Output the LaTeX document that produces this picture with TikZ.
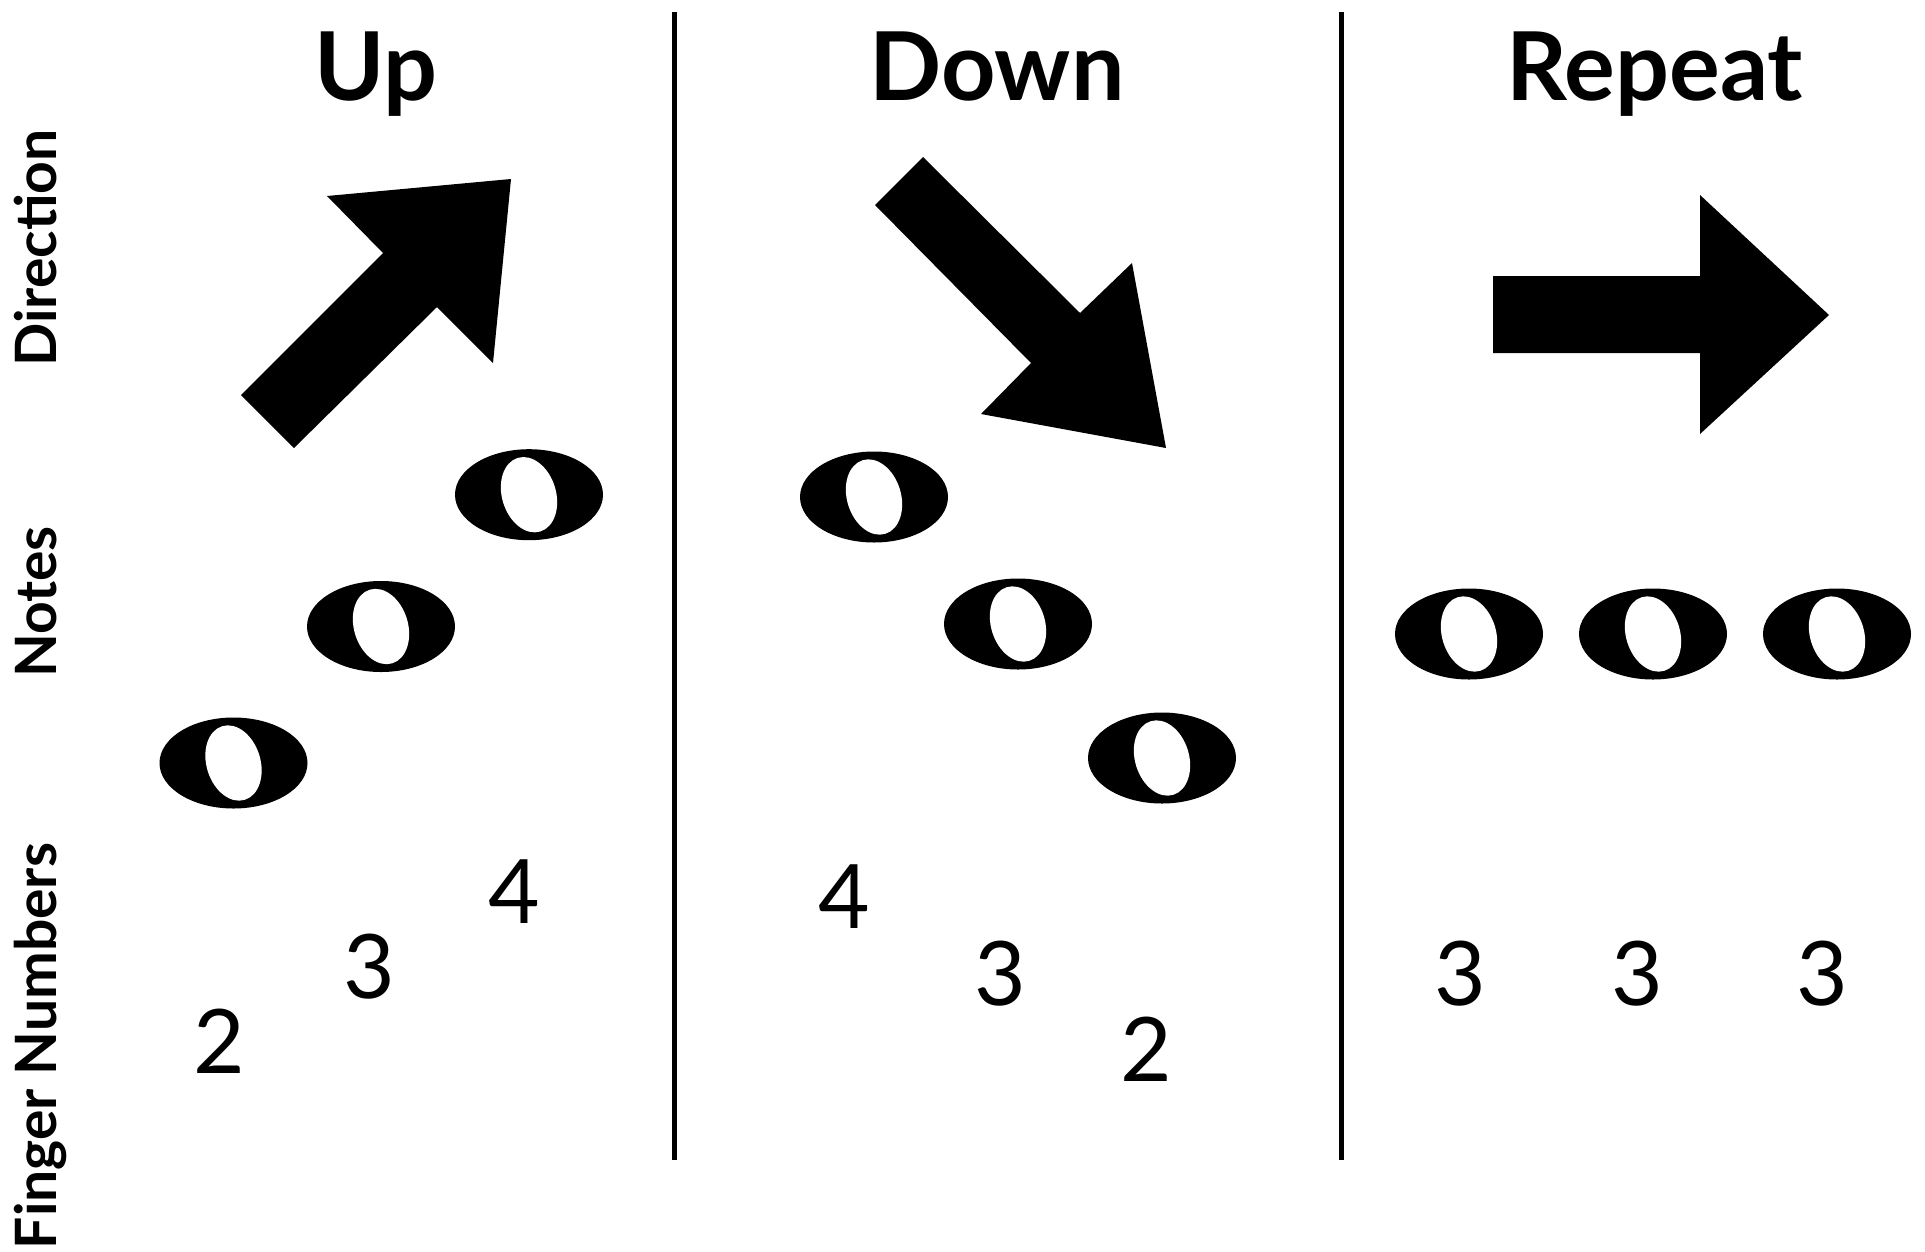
\documentclass[tikz,border=0pt]{standalone}
\usepackage{fontspec}
\setmainfont{Lato}
\begin{document}
\begin{tikzpicture}[x=1pt,y=-1pt,
  title/.style={font=\fontsize{95}{100}\selectfont\bfseries, anchor=base, inner sep=0pt},
  rowlabel/.style={font=\fontsize{57}{60}\selectfont\bfseries, anchor=base, rotate=90, inner sep=0pt},
  finger/.style={font=\fontsize{89}{90}\selectfont, inner sep=0pt, anchor=center},
  divider/.style={line width=5pt},
  bigarrow/.style={fill=black},
  wholenote/.pic={
    \fill[black] (0,0) ellipse [x radius=74, y radius=45.5];
    \fill[white, rotate=17] (0,0) ellipse [x radius=27, y radius=38.5];
  }]
\useasboundingbox (0,0) rectangle (1925,1251);
\fill[white] (0,0) rectangle (1925,1251);

% titles
\node[title] (tup) at (376,100) {Up};
\node[title] (tdown) at (997,100) {Down};
\node[title] (trep) at (1655,100) {Repeat};

% row labels
\node[rowlabel] (ldir) at (56,248) {Direction};
\node[rowlabel] (lnotes) at (56,602) {Notes};
\node[rowlabel] (lfing) at (56,1046) {Finger Numbers};

% dividers
\coordinate (d1t) at (674,12);
\coordinate (d1b) at (674,1160);
\coordinate (d2t) at (1341,12);
\coordinate (d2b) at (1341,1160);
\draw[divider] (d1t) -- (d1b);
\draw[divider] (d2t) -- (d2b);

% arrows
\fill[bigarrow] (241,395) -- (294,448) -- (437,307) -- (493,363) -- (511,179) -- (327,196) -- (383,253) -- cycle;
\fill[bigarrow] (875,205) -- (923,157) -- (1080,313) -- (1132,263) -- (1166,448) -- (981,414) -- (1031,363) -- cycle;
\fill[bigarrow] (1493,276) -- (1700,276) -- (1700,195) -- (1829,315) -- (1700,434) -- (1700,353) -- (1493,353) -- cycle;

% notes
\pic (nu1) at (233.5,763) {wholenote};
\pic (nu2) at (381,626.5) {wholenote};
\pic (nu3) at (529,494.7) {wholenote};
\pic (nd1) at (874,497) {wholenote};
\pic (nd2) at (1018,624) {wholenote};
\pic (nd3) at (1162,758) {wholenote};
\pic (nr1) at (1469,634) {wholenote};
\pic (nr2) at (1653,634) {wholenote};
\pic (nr3) at (1837,634) {wholenote};

% finger numbers
\node[finger] (fu1) at (219,1041) {2};
\node[finger] (fu2) at (369,967) {3};
\node[finger] (fu3) at (514,892) {4};
\node[finger] (fd1) at (844,897) {4};
\node[finger] (fd2) at (1000,974) {3};
\node[finger] (fd3) at (1146,1049) {2};
\node[finger] (fr1) at (1460,974) {3};
\node[finger] (fr2) at (1637,974) {3};
\node[finger] (fr3) at (1822,974) {3};
\end{tikzpicture}
\end{document}
